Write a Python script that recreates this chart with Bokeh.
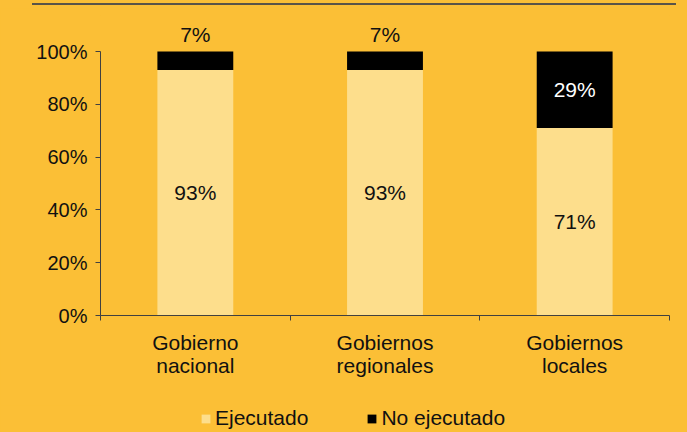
from bokeh.plotting import figure
from bokeh.models import (ColumnDataSource, FixedTicker, Range1d, Legend, LegendItem,
                          PrintfTickFormatter, Div)
from bokeh.layouts import column
from bokeh.embed import file_html
from bokeh.resources import INLINE
from bokeh.core.properties import value

# ---- data ----
categories = ["Gobierno\nnacional", "Gobiernos\nregionales", "Gobiernos\nlocales"]
ejecutado = [93, 93, 71]
no_ejecutado = [7, 7, 29]
series_names = ["Ejecutado", "No ejecutado"]
y_ticks = [0, 20, 40, 60, 80, 100]

# ---- style ----
BG = "#FBBF36"
LIGHT = "#FDDE8C"
DARK = "#000000"
AXIS = "#404040"
TXT = "#111111"
FONT = "Liberation Sans"
FS = "21px"
COLORS = [LIGHT, DARK]

xs = [i + 0.5 for i in range(len(categories))]
src = ColumnDataSource(dict(x=xs, e=ejecutado, n=no_ejecutado))

p = figure(width=687, height=397, output_backend="svg", toolbar_location=None,
           x_range=Range1d(0, len(categories)), y_range=Range1d(0, 113.64),
           min_border_left=100, min_border_right=18, min_border_top=7, min_border_bottom=90)
p.background_fill_color = BG
p.border_fill_color = BG
p.outline_line_color = None
p.grid.visible = False

rs = p.vbar_stack(["e", "n"], x="x", width=0.4, source=src,
                  color=COLORS, line_color=None)

# labels for Ejecutado (center of segment)
lab_e = ColumnDataSource(dict(x=xs, y=[v / 2 for v in ejecutado],
                              t=[f"{v}%" for v in ejecutado]))
p.text(x="x", y="y", text="t", source=lab_e, text_font=value(FONT),
       text_font_size=value(FS), text_color=TXT, text_align="center",
       text_baseline="middle")

# labels for No ejecutado
in_x, in_y, in_t, out_x, out_y, out_t = [], [], [], [], [], []
for x, e, n in zip(xs, ejecutado, no_ejecutado):
    if n >= 15:
        in_x.append(x); in_y.append(e + n / 2); in_t.append(f"{n}%")
    else:
        out_x.append(x); out_y.append(e + n); out_t.append(f"{n}%")
p.text(x="x", y="y", text="t", source=ColumnDataSource(dict(x=in_x, y=in_y, t=in_t)),
       text_font=value(FONT), text_font_size=value(FS), text_color="white",
       text_align="center", text_baseline="middle")
p.text(x="x", y="y", text="t", source=ColumnDataSource(dict(x=out_x, y=out_y, t=out_t)),
       text_font=value(FONT), text_font_size=value(FS), text_color=TXT,
       text_align="center", text_baseline="middle", y_offset=-17)

# y axis
ya = p.yaxis[0]
ya.ticker = FixedTicker(ticks=y_ticks)
ya.formatter = PrintfTickFormatter(format="%d%%")
ya.bounds = (0, 100)
ya.axis_line_color = AXIS
ya.major_tick_line_color = AXIS
ya.major_tick_out = 5
ya.major_tick_in = 0
ya.minor_tick_line_color = None
ya.major_label_text_font = FONT
ya.major_label_text_font_size = "20px"
ya.major_label_text_color = TXT
ya.major_label_standoff = 8

# x axis
xa = p.xaxis[0]
xa.ticker = FixedTicker(ticks=xs, minor_ticks=list(range(len(categories) + 1)))
xa.major_label_overrides = {x: c for x, c in zip(xs, categories)}
xa.axis_line_color = AXIS
xa.major_tick_out = 0
xa.major_tick_in = 0
xa.major_tick_line_color = None
xa.minor_tick_line_color = AXIS
xa.minor_tick_out = 5
xa.minor_tick_in = 0
xa.major_label_text_font = FONT
xa.major_label_text_font_size = FS
xa.major_label_text_color = TXT
xa.major_label_text_line_height = 1.0
xa.major_label_standoff = 10

# legend strip (a small figure holding only the legend; its frame is aligned
# with the main plot's frame by the column layout)
pl = figure(width=687, height=27, output_backend="svg", toolbar_location=None,
            x_axis_location=None, y_axis_location=None, min_border=0,
            x_range=Range1d(0, len(categories)), y_range=Range1d(0, 1))
pl.background_fill_color = BG
pl.border_fill_color = BG
pl.outline_line_color = None
pl.grid.visible = False
lr = [pl.vbar(x="x", top=0, width=0, source=src, color=c, line_color=None) for c in COLORS]
legend = Legend(items=[LegendItem(label=n, renderers=[r]) for n, r in zip(series_names, lr)],
                orientation="horizontal", location=(100, 2), padding=0, margin=0,
                spacing=58, glyph_width=11, glyph_height=11, label_standoff=4,
                label_text_font=FONT, label_text_font_size=FS, label_text_color=TXT,
                background_fill_alpha=0, border_line_color=None)
pl.add_layout(legend)

top_rule = Div(text='<div style="position:absolute;left:32px;top:3px;width:644px;'
                    'height:2px;background:#5a5448;"></div>',
               width=687, height=8, margin=(0, 0, 0, 0),
               styles={"background-color": BG})

layout = column(top_rule, p, pl, spacing=0, margin=(0, 0, 0, 0),
                styles={"background-color": BG})

html = file_html(layout, INLINE)
open("out.html", "w").write(html)
